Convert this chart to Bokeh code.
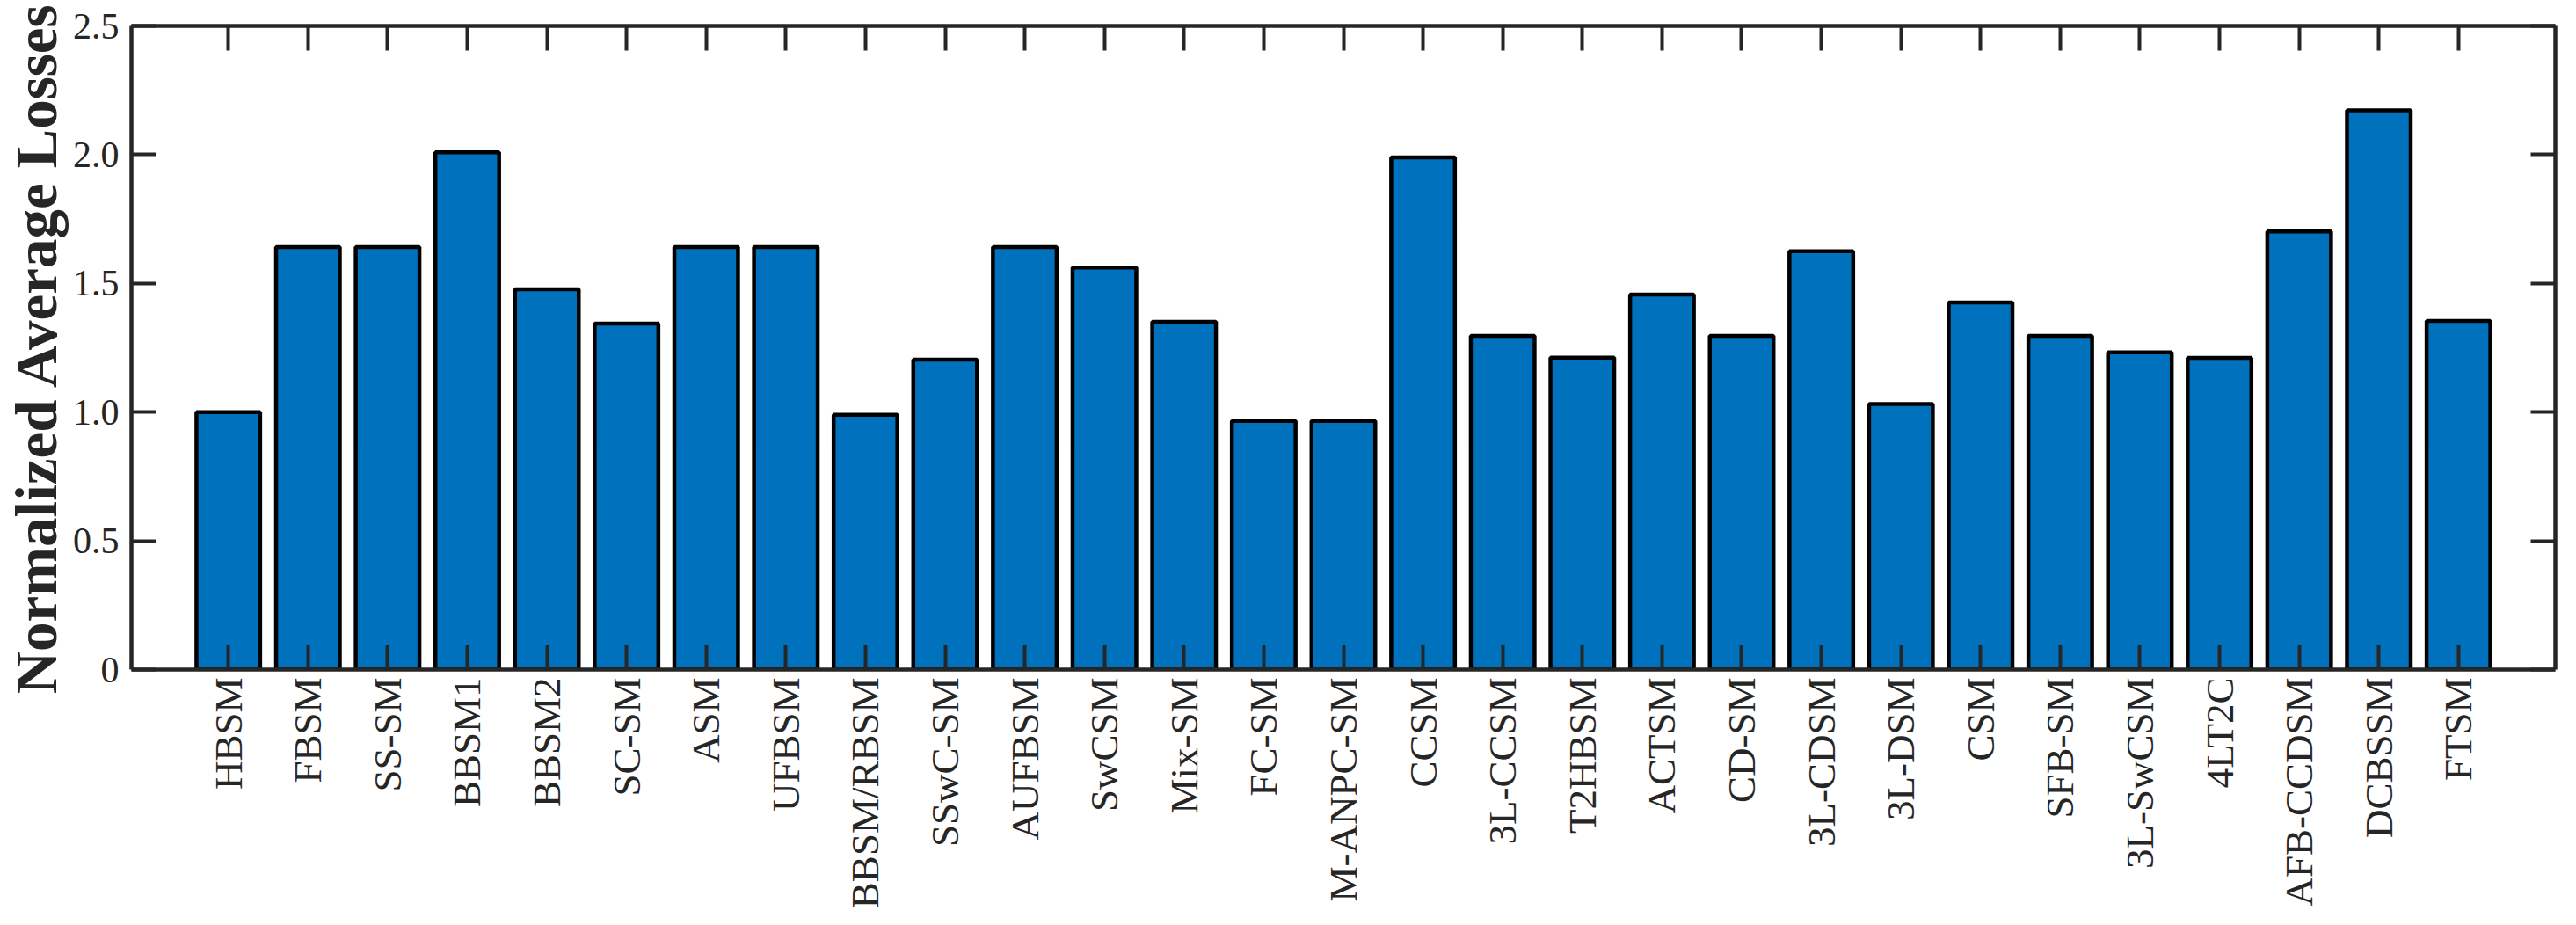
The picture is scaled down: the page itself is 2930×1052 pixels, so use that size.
import math
from bokeh.plotting import figure
from bokeh.models import FactorRange, Range1d, FixedTicker, CategoricalAxis, LinearAxis
from bokeh.embed import file_html
from bokeh.resources import INLINE

categories = ["HBSM", "FBSM", "SS-SM", "BBSM1", "BBSM2", "SC-SM", "ASM", "UFBSM",
              "BBSM/RBSM", "SSwC-SM", "AUFBSM", "SwCSM", "Mix-SM", "FC-SM", "M-ANPC-SM",
              "CCSM", "3L-CCSM", "T2HBSM", "ACTSM", "CD-SM", "3L-CDSM", "3L-DSM", "CSM",
              "SFB-SM", "3L-SwCSM", "4LT2C", "AFB-CCDSM", "DCBSSM", "FTSM"]
losses = [1.000, 1.641, 1.641, 2.009, 1.477, 1.344, 1.641, 1.641,
          0.990, 1.204, 1.641, 1.562, 1.351, 0.966, 0.966,
          1.989, 1.296, 1.212, 1.457, 1.296, 1.625, 1.031, 1.426,
          1.296, 1.232, 1.211, 1.702, 2.172, 1.354]
y_ticks = [0, 0.5, 1.0, 1.5, 2.0, 2.5]
y_tick_labels = ["0", "0.5", "1.0", "1.5", "2.0", "2.5"]
y_label = "Normalized Average Losses"

AX = "#262626"
FONT = "Liberation Serif"

p = figure(width=2914, height=1036,
           x_range=FactorRange(factors=categories, range_padding=0.716,
                               range_padding_units="absolute"),
           y_range=Range1d(0, 2.5),
           output_backend="svg", toolbar_location=None,
           min_border_left=142, min_border_right=8,
           min_border_top=29, min_border_bottom=273)
p.background_fill_color = "white"
p.border_fill_color = "white"
p.outline_line_color = None
p.xgrid.visible = False
p.ygrid.visible = False

p.vbar(x=categories, top=losses, width=0.8, bottom=0,
       fill_color="#0072BD", line_color="black", line_width=4.5)

def style_axis(ax, show_labels):
    ax.axis_line_color = AX
    ax.axis_line_width = 4.5
    ax.major_tick_line_color = AX
    ax.major_tick_line_width = 4
    ax.major_tick_in = 28
    ax.major_tick_out = 0
    ax.minor_tick_in = 0
    ax.minor_tick_out = 0
    ax.major_label_text_font = FONT
    ax.major_label_text_color = AX
    if not show_labels:
        ax.major_label_text_color = None
        ax.major_label_text_alpha = 0
        ax.major_label_text_font_size = "1px"
        ax.major_label_standoff = 0

# bottom categorical axis
xa = p.xaxis[0]
style_axis(xa, True)
xa.major_label_text_font_size = "45px"
xa.major_label_orientation = math.pi / 2
xa.major_label_standoff = 9

# left axis
ya = p.yaxis[0]
style_axis(ya, True)
ya.ticker = FixedTicker(ticks=y_ticks)
ya.major_label_overrides = dict(zip(y_ticks, y_tick_labels))
ya.major_label_text_font_size = "42px"
ya.major_label_standoff = 14
ya.axis_label = y_label
ya.axis_label_text_font = FONT
ya.axis_label_text_font_style = "bold"
ya.axis_label_text_font_size = "67px"
ya.axis_label_text_color = AX
ya.axis_label_standoff = 2

# top axis (ticks only)
ta = CategoricalAxis()
style_axis(ta, False)
p.add_layout(ta, "above")

# right axis (ticks only)
ra = LinearAxis(ticker=FixedTicker(ticks=y_ticks))
style_axis(ra, False)
p.add_layout(ra, "right")

open("out.html", "w").write(file_html(p, INLINE))
